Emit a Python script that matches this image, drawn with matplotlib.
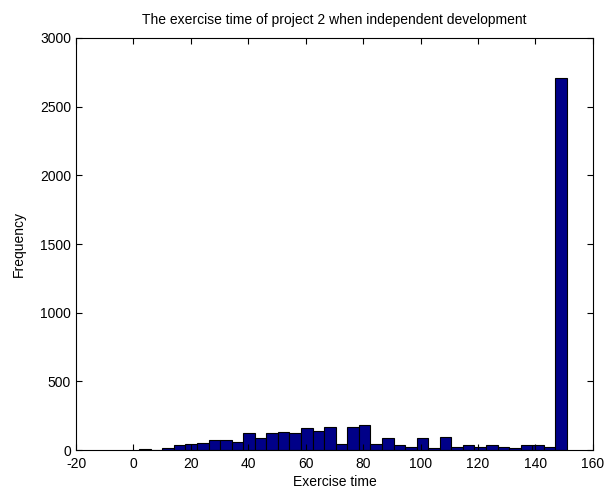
import numpy as np
import matplotlib
matplotlib.use('Agg')
import matplotlib.pyplot as plt

plt.rcParams['font.family'] = ['Liberation Sans', 'DejaVu Sans']
plt.rcParams['axes.unicode_minus'] = False

# histogram: 37 bins between ~2 and ~151
bin_lo = 2.0
bin_hi = 151.0
counts = [7, 0, 17, 34, 41, 51, 73, 73, 61, 121,
          87, 121, 134, 121, 158, 141, 165, 41, 165, 182,
          41, 85, 36, 24, 85, 17, 97, 24, 36, 24,
          36, 24, 15, 36, 36, 22, 2705]
edges = np.linspace(bin_lo, bin_hi, len(counts) + 1)

xticks = np.arange(-20, 161, 20)
yticks = np.arange(0, 3001, 500)

fig = plt.figure(figsize=(6.13, 4.93), dpi=100)
ax = fig.add_axes([0.124, 0.087, 0.843, 0.836])

ax.bar(edges[:-1], counts, width=np.diff(edges), align='edge',
       color='#000088', edgecolor='black', linewidth=0.8)

ax.set_xlim(-20, 160)
ax.set_ylim(0, 3000)
ax.set_xticks(xticks)
ax.set_yticks(yticks)
ax.tick_params(direction='in', top=True, right=True, labelsize=10, length=4)
ax.tick_params(axis='x', pad=5)

ax.set_title('The exercise time of project 2 when independent development',
             fontsize=10, pad=10)
ax.set_xlabel('Exercise time', fontsize=10, labelpad=3)
ax.set_ylabel('Frequency', fontsize=10, labelpad=10)

fig.savefig('out.png', dpi=100)
